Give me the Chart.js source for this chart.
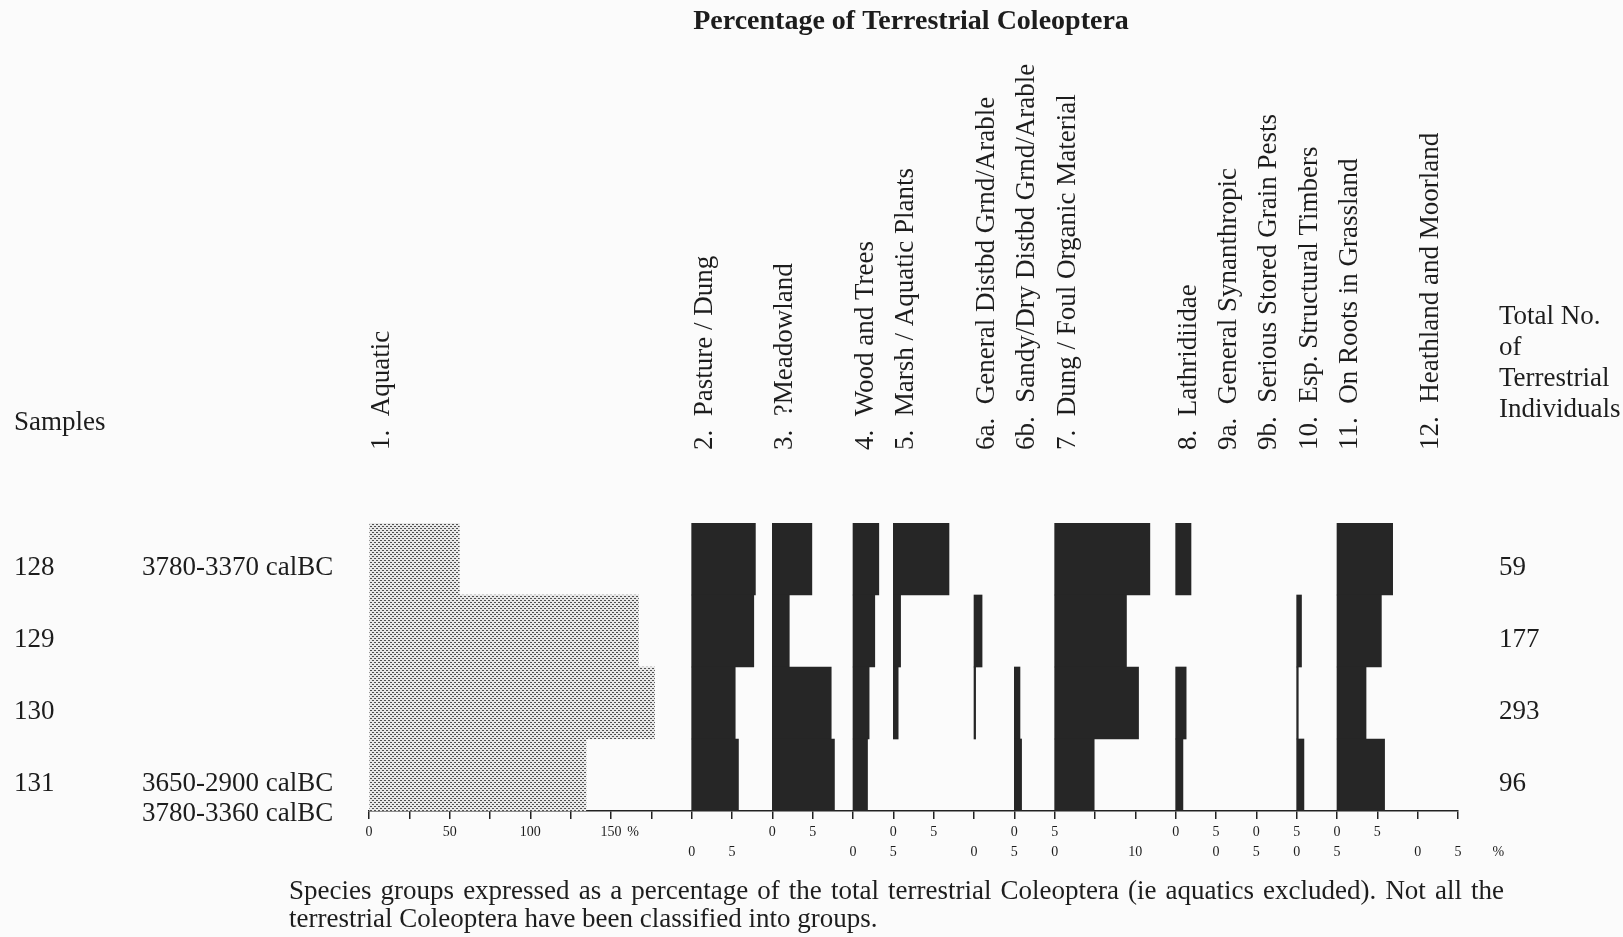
<!DOCTYPE html>
<html>
<head>
<meta charset="utf-8">
<title>Percentage of Terrestrial Coleoptera</title>
<script src="https://cdn.jsdelivr.net/npm/chart.js@4/dist/chart.umd.min.js"></script>
<style>
  html, body { margin: 0; padding: 0; background: #fbfbfb; }
  #wrap { width: 1623px; height: 937px; position: relative; }
  canvas { display: block; }
</style>
</head>
<body>
<div id="wrap"><canvas id="chart" width="1623" height="937"></canvas></div>
<script>
// ---- Data -------------------------------------------------------------
const samples = ['128', '129', '130', '131'];
const sampleDates = [['3780-3370 calBC'], [], [], ['3650-2900 calBC', '3780-3360 calBC']];
const totalIndividuals = [59, 177, 293, 96];

const groupNames = [
  '1.  Aquatic',
  '2.  Pasture / Dung',
  '3.  ?Meadowland',
  '4.  Wood and Trees',
  '5.  Marsh / Aquatic Plants',
  '6a.  General Distbd Grnd/Arable',
  '6b.  Sandy/Dry Distbd Grnd/Arable',
  '7.  Dung / Foul Organic Material',
  '8.  Lathridiidae',
  '9a.  General Synanthropic',
  '9b.  Serious Stored Grain Pests',
  '10.  Esp. Structural Timbers',
  '11.  On Roots in Grassland',
  '12.  Heathland and Moorland'
];

// percentages per sample (128, 129, 130, 131)
const aquatic        = [56, 167, 177, 134.5];
const pastureDung    = [7.9, 7.7, 5.4, 5.8];
const meadowland     = [4.9, 2.1, 7.3, 7.7];
const woodTrees      = [3.2, 2.7, 2.0, 1.8];
const marshAquatic   = [6.9, 0.9, 0.6, 0];
const generalDistbd  = [0, 1.0, 0.2, 0];
const sandyDryDistbd = [0, 0, 0.7, 0.9];
const dungFoul       = [11.8, 8.9, 10.4, 4.9];
const lathridiidae   = [1.9, 0, 1.3, 0.9];
const synanthropic   = [0, 0, 0, 0];
const grainPests     = [0, 0, 0, 0];
const timbers        = [0, 0.6, 0.2, 0.9];
const rootsGrassland = [6.9, 5.5, 3.6, 5.9];
const heathMoor      = [0, 0, 0, 0];

// axis tick labels, upper and lower row
const tickRowA = ['0','','50','','100','','150','','','','0','5','','0','5','','0','5','','','0','5','0','5','0','5','',''];
const tickRowB = ['','','','','','','','','0','5','','','0','5','','0','5','0','','10','','0','5','0','5','','0','5'];

const title = 'Percentage of Terrestrial Coleoptera';
const caption = [
  'Species groups expressed as a percentage of the total terrestrial Coleoptera (ie aquatics excluded). Not all the',
  'terrestrial Coleoptera have been classified into groups.'
];

// ---- Layout of the panels along the shared axis -----------------------
// start: axis position of each panel's zero; unit: percent per axis step
const panelSeries = [aquatic, pastureDung, meadowland, woodTrees, marshAquatic, generalDistbd,
  sandyDryDistbd, dungFoul, lathridiidae, synanthropic, grainPests, timbers, rootsGrassland, heathMoor];
const panelStart = [0, 8, 10, 12, 13, 15, 16, 17, 20, 21, 22, 23, 24, 26];
const panelUnit  = [25, 5, 5, 5, 5, 5, 5, 5, 5, 5, 5, 5, 5, 5];

const SERIF = "'Liberation Serif', 'Times New Roman', serif";
const INK = '#1d1d1d';
const BAR = '#262626';

const canvas = document.getElementById('chart');
const ctx0 = canvas.getContext('2d');

// fine stipple used for the aquatic panel
function makeStipple() {
  const t = document.createElement('canvas');
  t.width = 4; t.height = 4;
  const g = t.getContext('2d');
  g.fillStyle = '#e8e8e8';
  g.fillRect(0, 0, 4, 4);
  g.fillStyle = '#505050';
  g.fillRect(0, 0, 2, 1);
  g.fillRect(2, 2, 2, 1);
  return ctx0.createPattern(t, 'repeat');
}
const stipple = makeStipple();

// empty groups get no bar at all
const datasets = panelSeries.map((vals, p) => ({
  label: groupNames[p],
  data: vals.map(v => (v > 0 ? [panelStart[p], panelStart[p] + v / panelUnit[p]] : null)),
  backgroundColor: p === 0 ? stipple : BAR,
  borderWidth: 0,
  barPercentage: 1,
  categoryPercentage: 1,
  grouped: false
}));

function drawJustified(ctx, text, x, y, width) {
  const words = text.split(' ');
  const widths = words.map(w => ctx.measureText(w).width);
  const sum = widths.reduce((a, b) => a + b, 0);
  const gap = (width - sum) / (words.length - 1);
  let cx = x;
  words.forEach((w, i) => { ctx.fillText(w, cx, y); cx += widths[i] + gap; });
}

const sheetText = {
  id: 'sheetText',
  afterDraw(chart) {
    const { ctx, scales: { x, y } } = chart;
    ctx.save();
    ctx.fillStyle = INK;

    // title
    ctx.font = `bold 28px ${SERIF}`;
    ctx.textAlign = 'center';
    ctx.textBaseline = 'middle';
    ctx.fillText(title, 911, 22);

    // rotated group headings
    ctx.font = `27px ${SERIF}`;
    ctx.textAlign = 'left';
    ctx.textBaseline = 'alphabetic';
    groupNames.forEach((name, p) => {
      const px = x.getPixelForValue(panelStart[p]) + 20;
      ctx.save();
      ctx.translate(px, 450);
      ctx.rotate(-Math.PI / 2);
      ctx.fillText(name, 0, 0);
      ctx.restore();
    });

    // left column: sample numbers and dates
    ctx.textBaseline = 'middle';
    ctx.fillText('Samples', 14, 423);
    samples.forEach((s, i) => {
      const py = y.getPixelForValue(i) + 9;
      ctx.fillText(s, 14, py);
      sampleDates[i].forEach((d, k) => ctx.fillText(d, 142, py + k * 30));
      ctx.fillText(String(totalIndividuals[i]), 1499, py);
    });

    // right column heading
    ['Total No.', 'of', 'Terrestrial', 'Individuals'].forEach((t, k) => ctx.fillText(t, 1499, 317 + k * 31));

    // percent signs on the axis
    ctx.font = `14px ${SERIF}`;
    ctx.textAlign = 'center';
    ctx.fillText('%', x.getPixelForValue(6) + 22, 832);
    ctx.fillText('%', x.getPixelForValue(28), 852);

    // caption
    ctx.font = `27px ${SERIF}`;
    ctx.textAlign = 'left';
    drawJustified(ctx, caption[0], 289, 892, 1215);
    ctx.fillText(caption[1], 289, 920);

    ctx.restore();
  }
};

new Chart(canvas, {
  type: 'bar',
  data: { labels: samples, datasets },
  options: {
    indexAxis: 'y',
    responsive: false,
    animation: false,
    events: [],
    layout: { padding: { left: 369, right: 165, top: 523, bottom: 0 } },
    plugins: { legend: { display: false }, tooltip: { enabled: false }, title: { display: false } },
    scales: {
      x: {
        type: 'linear',
        position: 'bottom',
        min: 0,
        max: tickRowA.length - 1,
        afterBuildTicks(scale) {
          scale.ticks = tickRowA.map((_, i) => ({ value: i }));
        },
        afterFit(scale) {
          scale.height = 126;
          scale.paddingLeft = 0;
          scale.paddingRight = 0;
        },
        ticks: {
          autoSkip: false,
          maxRotation: 0,
          padding: 3,
          color: INK,
          font: { family: SERIF, size: 14, lineHeight: '20px' },
          callback: (v, i) => [tickRowA[i], tickRowB[i]]
        },
        grid: { drawOnChartArea: false, drawTicks: true, tickLength: 8, color: '#222', lineWidth: 1.5 },
        border: { display: true, color: '#222', width: 1.5 }
      },
      y: { type: 'category', display: false, offset: true }
    }
  },
  plugins: [sheetText]
});
</script>
</body>
</html>
